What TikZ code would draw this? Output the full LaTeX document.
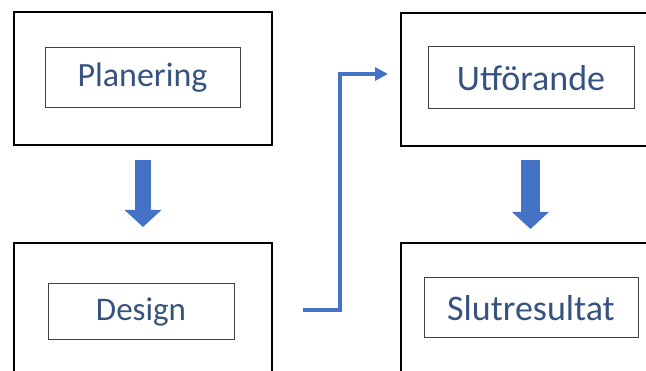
\documentclass[tikz,border=0pt]{standalone}
\usepackage{fontspec}
\setmainfont{Carlito}
\usetikzlibrary{arrows.meta, positioning}
\definecolor{textblue}{HTML}{36527F}
\definecolor{arrowblue}{HTML}{4472C4}

\begin{document}
\begin{tikzpicture}[x=1pt, y=-1pt]
    \tikzstyle{stage}=[draw=black, line width=2pt, minimum width=258pt, minimum height=133pt, inner sep=0pt]
    \tikzstyle{stage label}=[draw=black!75, line width=1pt, text=textblue, inner sep=0pt]
    \tikzstyle{block arrow}=[draw=arrowblue, line width=16pt, -{Triangle[length=17pt, width=36pt]}]
    \tikzstyle{jump arrow}=[draw=arrowblue, line width=3.5pt, -{Triangle[length=13pt, width=13pt]}]

    \useasboundingbox (0,0) rectangle (646,371);
    \clip (0,0) rectangle (646,371);

    % Draw the outer boxes of the four stages
    \node[stage] (S-1) at (143,78.5) {};
    \node[stage, minimum height=137pt] (S-2) at (143,311.5) {};
    \node[stage, minimum width=259pt] (S-3) at (530.5,79.5) {};
    \node[stage, minimum width=259pt, minimum height=137pt] (S-4) at (530.5,311.5) {};

    % Draw the labels inside the stages
    \node[stage label, minimum width=195pt, minimum height=60pt, font=\fontsize{34}{40}\selectfont] (L-1) at (142.5,78) {Planering};
    \node[stage label, minimum width=186pt, minimum height=56pt, font=\fontsize{33}{40}\selectfont] (L-2) at (141,312) {Design};
    \node[stage label, minimum width=206pt, minimum height=62pt, font=\fontsize{36}{42}\selectfont] (L-3) at (531,78) {Utförande};
    \node[stage label, minimum width=214pt, minimum height=60pt, font=\fontsize{36}{42}\selectfont] (L-4) at (531,308) {Slutresultat};

    % Connect the stages
    \draw[block arrow, shorten <=14pt, shorten >=15pt] (S-1.south) -- (S-2.north);
    \draw[block arrow, line width=19pt, shorten <=13pt, shorten >=13pt] (S-3.south) -- (S-4.north);
    \draw[jump arrow, shorten <=30pt, shorten >=12pt] ([yshift=1.5pt]S-2.east) -- ++(67,0) |- ([yshift=5.5pt]S-3.west);
\end{tikzpicture}
\end{document}
